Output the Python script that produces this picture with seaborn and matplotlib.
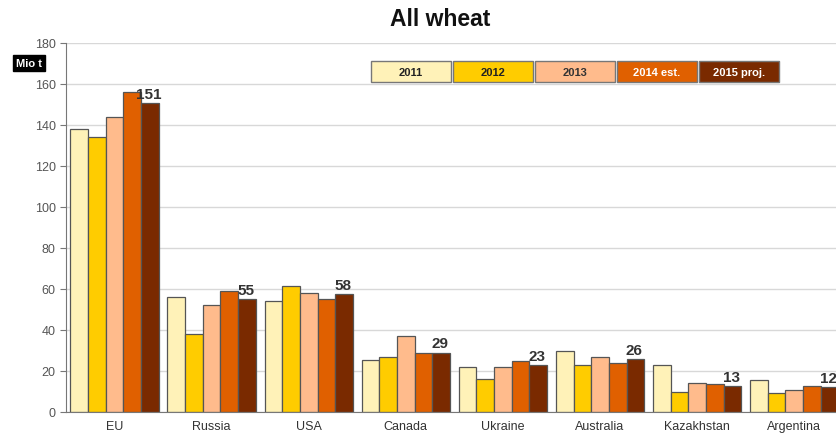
import pandas as pd
import numpy as np
import matplotlib.pyplot as plt
import matplotlib.patches as mpatches
import seaborn as sns

countries = ["EU", "Russia", "USA", "Canada", "Ukraine", "Australia", "Kazakhstan", "Argentina"]
years = ["2011", "2012", "2013", "2014 est.", "2015 proj."]
v2011 = [138, 56, 54, 25.5, 22, 30, 22.7, 15.5]
v2012 = [134, 38, 61.5, 27, 16, 23, 10, 9.5]
v2013 = [144, 52, 58, 37, 22, 27, 14, 10.5]
v2014 = [156, 59, 55, 29, 25, 24, 13.5, 12.5]
v2015 = [150.5, 55, 57.5, 29, 23, 26, 12.5, 12]
labels_2015 = ["151", "55", "58", "29", "23", "26", "13", "12"]

colors = ["#FFF2B8", "#FFCC00", "#FFBB8C", "#E06000", "#7A2A00"]
text_colors = ["#222222", "#222222", "#333333", "white", "white"]

rows = []
for yr, vals in zip(years, [v2011, v2012, v2013, v2014, v2015]):
    for c, v in zip(countries, vals):
        rows.append({"country": c, "year": yr, "value": v})
df = pd.DataFrame(rows)

sns.set_style("white")
plt.rcParams["font.family"] = ["Liberation Sans", "DejaVu Sans"]

W, H = 836, 435
fig = plt.figure(figsize=(W / 100, H / 100), dpi=100)
ax = fig.add_axes([66 / W, 1 - 413 / H, 1 - 66 / W, (413 - 44) / H])

sns.barplot(data=df, x="country", y="value", hue="year", palette=colors, saturation=1,
            width=0.91, edgecolor="#555555", linewidth=0.9, ax=ax, legend=False)

ax.set_yticks(np.arange(0, 181, 20))
ax.set_xticks(np.arange(-0.5, 8, 1), minor=True)
ax.set_ylim(0, 180)
ax.set_xlim(-0.5, 7.43)
ax.yaxis.grid(True, color="#d8d8d8", linewidth=1)
ax.set_axisbelow(True)
ax.set_xlabel("")
ax.set_ylabel("")
for s in ["top", "right"]:
    ax.spines[s].set_visible(False)
ax.spines["left"].set_color("#777777")
ax.spines["bottom"].set_color("#777777")
ax.tick_params(axis="y", left=True, length=4, color="#777777", labelsize=9, labelcolor="#555555")
ax.tick_params(axis="x", which="major", length=0, labelsize=9, labelcolor="#333333", pad=6)
ax.tick_params(axis="x", which="minor", length=4, color="#777777")

# value labels above the last bar of each group
bw = 0.91 / 5
for i, (v, lab) in enumerate(zip(v2015, labels_2015)):
    ax.text(i + 2 * bw - 0.01, v + 1, lab, ha="center", va="bottom",
            fontsize=11, fontweight="bold", color="#333333", clip_on=False)

fig.text(0.527, 1 - 20 / H, "All wheat", ha="center", va="center",
         fontsize=16.5, fontweight="bold", color="#111111")
fig.text(29 / W, 1 - 64 / H, "Mio t", ha="center", va="center", fontsize=8,
         fontweight="bold", color="white",
         bbox=dict(boxstyle="square,pad=0.3", facecolor="black", edgecolor="black"))

# legend boxes
for k, (yr, c, tc) in enumerate(zip(years, colors, text_colors)):
    left = 371 + k * 82
    rect = mpatches.Rectangle((left / W, 1 - 83 / H), 80 / W, 21 / H, transform=fig.transFigure,
                              facecolor=c, edgecolor="#777777", linewidth=1)
    fig.patches.append(rect)
    fig.text((left + 40) / W, 1 - 72.5 / H, yr, ha="center", va="center",
             fontsize=8, fontweight="bold", color=tc)

plt.savefig("out.png")
